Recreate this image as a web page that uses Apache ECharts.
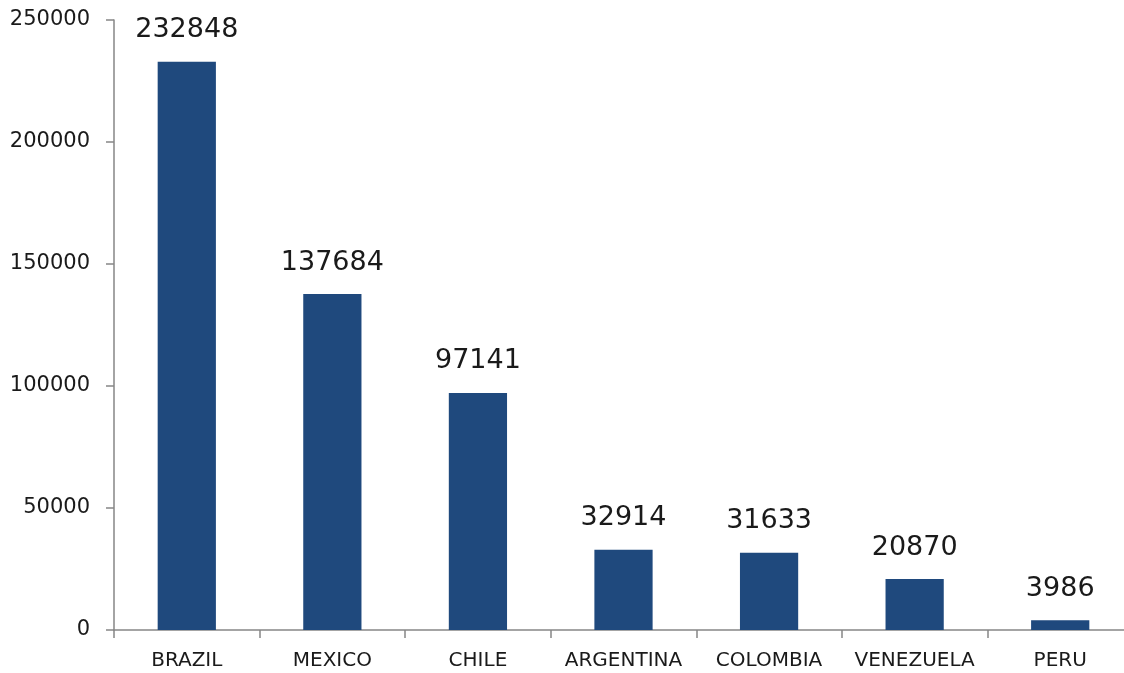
<!DOCTYPE html>
<html>
<head>
<meta charset="utf-8">
<script src="https://cdn.jsdelivr.net/npm/echarts@6/dist/echarts.min.js"></script>
<style>
html,body{margin:0;padding:0;background:#fff;}
#chart{width:1124px;height:673px;}
</style>
</head>
<body>
<div id="chart"></div>
<script>
const categories = ['BRAZIL', 'MEXICO', 'CHILE', 'ARGENTINA', 'COLOMBIA', 'VENEZUELA', 'PERU'];
const values = [232848, 137684, 97141, 32914, 31633, 20870, 3986];
const yTicks = [0, 50000, 100000, 150000, 200000, 250000];

const chart = echarts.init(document.getElementById('chart'));
const axisColor = '#868686';
chart.setOption({
  animation: false,
  grid: { left: 114, width: 1019, top: 20, bottom: 43, containLabel: false, outerBoundsMode: 'none' },
  xAxis: {
    type: 'category',
    data: categories,
    boundaryGap: true,
    axisLine: { show: true, lineStyle: { color: axisColor, width: 1.5 } },
    axisTick: { show: true, alignWithLabel: false, length: 8, lineStyle: { color: axisColor, width: 1.5 } },
    axisLabel: { color: '#1a1a1a', fontFamily: 'DejaVu Sans', fontSize: 20, margin: 21, interval: 0 },
    splitLine: { show: false }
  },
  yAxis: {
    type: 'value',
    min: yTicks[0],
    max: yTicks[yTicks.length - 1],
    interval: yTicks[1] - yTicks[0],
    axisLine: { show: true, lineStyle: { color: axisColor, width: 1.5 } },
    axisTick: { show: true, length: 8, lineStyle: { color: axisColor, width: 1.5 } },
    axisLabel: {
      color: '#1a1a1a', fontFamily: 'DejaVu Sans', fontSize: 21, margin: 24,
      formatter: function (v) { return String(v); }
    },
    splitLine: { show: false }
  },
  series: [{
    type: 'bar',
    data: values,
    barWidth: '40%',
    itemStyle: { color: '#1F497D' },
    label: {
      show: true,
      position: 'top',
      distance: 18,
      color: '#1a1a1a',
      fontFamily: 'DejaVu Sans',
      fontSize: 27
    }
  }]
});
</script>
</body>
</html>
